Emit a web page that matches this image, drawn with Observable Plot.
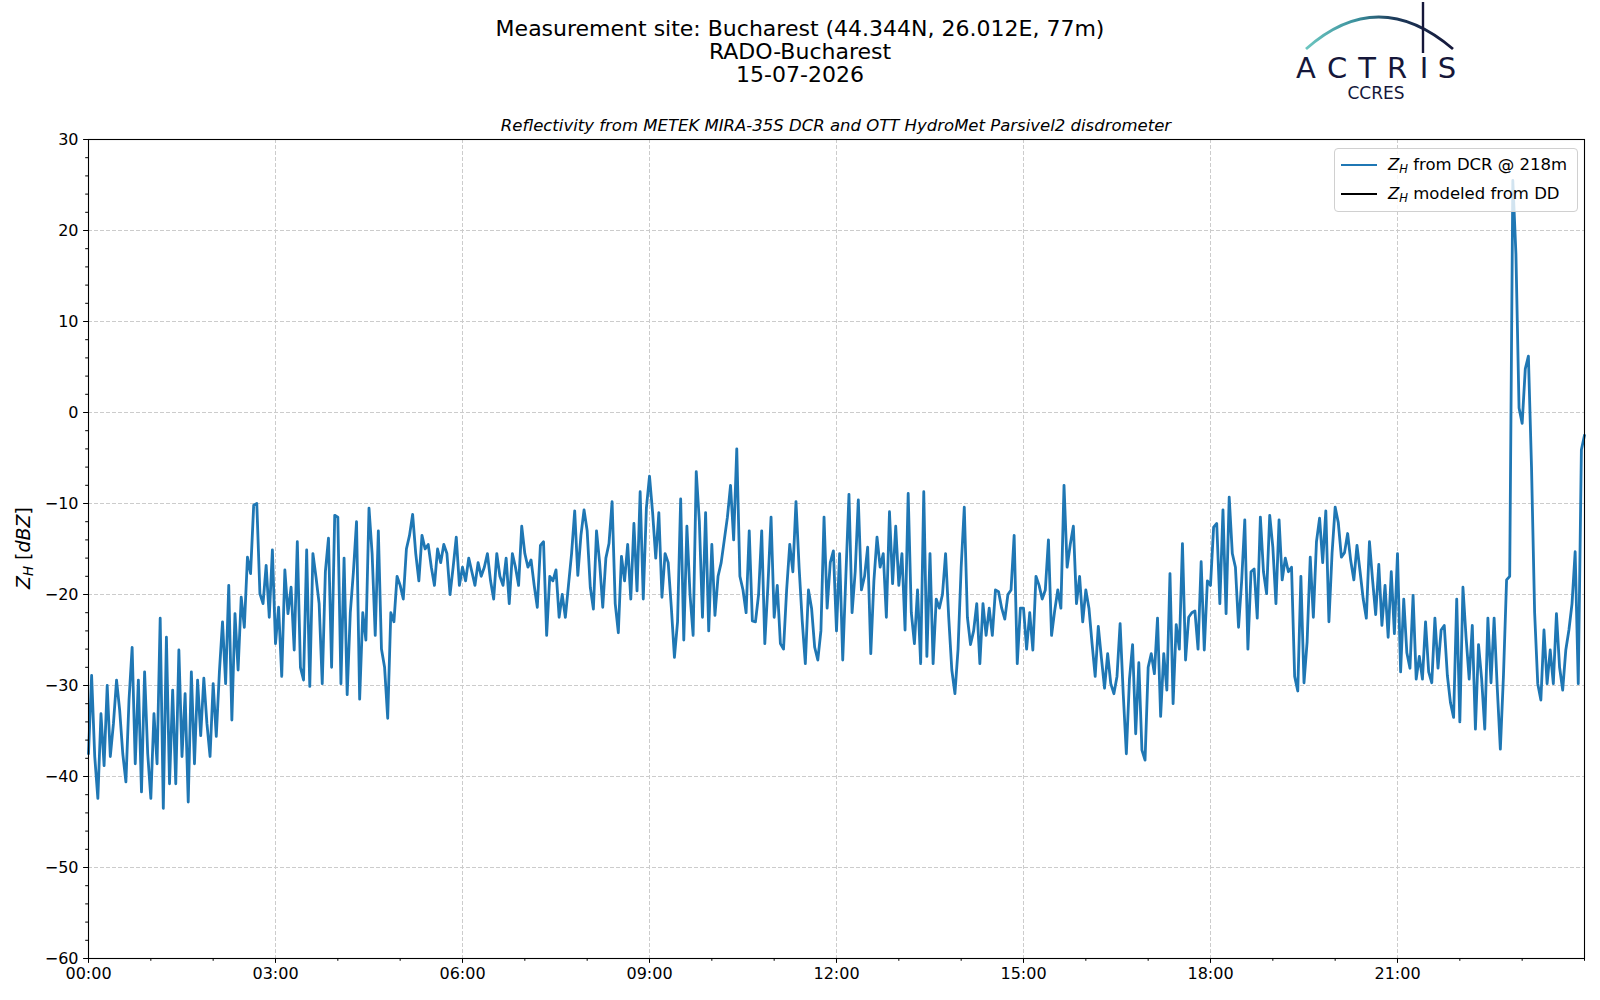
<!DOCTYPE html>
<html><head><meta charset="utf-8">
<script src="https://cdn.jsdelivr.net/npm/d3@7"></script>
<script src="https://cdn.jsdelivr.net/npm/@observablehq/plot@0.6"></script>
<style>
body{margin:0;background:#fff;}
#fig{position:relative;width:1600px;height:1000px;background:#fff;font-family:"DejaVu Sans",sans-serif;color:#000;overflow:hidden}
.t{position:absolute;left:0;width:1600px;text-align:center;font-size:22px;line-height:23px;white-space:nowrap}
#sub{position:absolute;left:636px;width:400px;top:116px;text-align:center;font-size:16.5px;line-height:20px;font-style:italic;white-space:nowrap;display:flex;justify-content:center}
#chart{position:absolute;left:0;top:110px;width:1600px;height:890px}
#ylab{position:absolute;left:22.5px;top:548px;width:200px;text-align:center;font-size:19px;line-height:22px;white-space:nowrap;transform:translate(-50%,-50%) rotate(-90deg)}
#legend{position:absolute;left:1334px;top:148px;width:244px;height:64px;border:1px solid #d0d0d0;border-radius:4px;background:rgba(255,255,255,0.8);box-sizing:border-box;font-size:16.5px}
.row{position:absolute;left:0;height:22px;line-height:22px;white-space:nowrap}
.sw{position:absolute;left:6px;top:10px;width:36px;height:2.4px}
.lt{position:absolute;left:53px;top:0}
sub{font-size:70%;vertical-align:-0.25em;line-height:0}
#logo{position:absolute;left:1290px;top:0}
</style></head><body>
<div id="fig">
  <div class="t" style="top:17px">Measurement site: Bucharest (44.344N, 26.012E, 77m)</div>
  <div class="t" style="top:40px">RADO-Bucharest</div>
  <div class="t" style="top:63px">15-07-2026</div>
  <div id="sub"><span>Reflectivity from METEK MIRA-35S DCR and OTT HydroMet Parsivel2 disdrometer</span></div>
  <svg id="logo" width="175" height="105" viewBox="1290 0 175 105">
    <defs>
      <linearGradient id="arcg" x1="1306" y1="0" x2="1453" y2="0" gradientUnits="userSpaceOnUse">
        <stop offset="0" stop-color="#6cc6c0"/>
        <stop offset="0.35" stop-color="#3a8f9c"/>
        <stop offset="0.6" stop-color="#1d3a5a"/>
        <stop offset="1" stop-color="#15173a"/>
      </linearGradient>
    </defs>
    <path d="M1306,49 Q1378,-15 1453,49" fill="none" stroke="url(#arcg)" stroke-width="2.8"/>
    <path d="M1423,2 L1423,53" stroke="#15173a" stroke-width="2.4"/>
    <g fill="#15173a" font-family="DejaVu Sans" font-weight="400" font-size="29" text-anchor="middle">
      <text x="1306" y="78">A</text><text x="1337" y="78">C</text><text x="1367" y="78">T</text>
      <text x="1397" y="78">R</text><text x="1424" y="78">I</text><text x="1447" y="78">S</text>
    </g>
    <text x="1376" y="99" fill="#15173a" font-family="DejaVu Sans" font-size="17" text-anchor="middle">CCRES</text>
  </svg>
  <div id="chart"></div>
  <div id="ylab"><i>Z</i><sub><i>H</i></sub> [<i>dBZ</i>]</div>
  <div id="legend">
    <div class="row" style="top:5px"><div class="sw" style="background:#1f77b4"></div><span class="lt"><i>Z</i><sub><i>H</i></sub> from DCR @ 218m</span></div>
    <div class="row" style="top:34px"><div class="sw" style="background:#000"></div><span class="lt"><i>Z</i><sub><i>H</i></sub> modeled from DD</span></div>
  </div>
</div>
<script>
// Z_H from DCR @ 218m, one value every 3 minutes (dBZ)
const zh_00_03 = [-37.5,-28.9,-37.8,-42.4,-33.1,-38.8,-30,-37.8,-34.2,-29.4,-32.7,-37.5,-40.6,-31.6,-25.8,-38.6,-29.4,-41.7,-28.5,-37.5,
  -42.4,-33.1,-38.6,-22.6,-43.5,-24.7,-40.8,-30.5,-40.8,-26.1,-37.8,-30.9,-42.8,-28.5,-38.6,-29.4,-35.5,-29.2,-34.2,-37.8,
  -29.8,-35.6,-28.5,-23,-29.8,-19,-33.8,-22.1,-28.3,-20.3,-23.6,-15.9,-17.7,-10.2,-10,-19.9,-21,-16.8,-22.5,-15.1];
const zh_03_06 = [-25.4,-21.4,-29,-17.3,-22.1,-19.2,-26.1,-14.2,-28,-29.4,-15.1,-30.1,-15.5,-18.1,-21,-29.8,-17.5,-13.8,-28,-11.3,
  -11.5,-29.8,-16,-31,-22,-17.5,-12,-31.5,-22,-25,-10.5,-15.5,-24.5,-13,-26,-28,-33.6,-22,-23,-18,
  -19,-20.5,-15,-13.5,-11.2,-15.5,-18.5,-13.5,-15,-14.5,-17,-19,-15,-16.5,-14.5,-15.5,-20,-17,-13.7,-19];
const zh_06_09 = [-17,-18.5,-16,-17.5,-19,-16.5,-18,-17,-15.5,-18.5,-20.5,-15.5,-18,-19,-16,-21,-15.5,-17,-19,-12.5,
  -15.5,-17,-16.2,-19,-21.4,-14.6,-14.2,-24.5,-18,-18.5,-17.3,-22.5,-20,-22.5,-19,-15.5,-10.8,-17.9,-13.5,-10.7,
  -13,-19.2,-21.6,-13,-16.5,-21.4,-16,-14.4,-9.8,-21,-24.2,-15.8,-18.5,-14.5,-20.5,-12.2,-19.6,-8.7,-20.5,-10.5];
const zh_09_12 = [-7,-11,-16,-11,-20.3,-15.5,-16.5,-21.4,-26.9,-23,-9.5,-25,-12.5,-20,-24.5,-6.5,-12,-22.5,-11,-24,
  -14.5,-22.3,-18,-16.5,-14,-11.5,-8,-14,-4,-18,-19.5,-22,-13,-22.9,-23,-20,-13,-25.4,-19,-11.5,
  -22.5,-19,-25.4,-26,-19.5,-14.5,-17.5,-9.8,-17,-22.9,-27.6,-19.5,-21.5,-25.8,-27.2,-24,-11.5,-21.5,-16.5,-15.2];
const zh_12_15 = [-24,-15.5,-27.2,-18,-9,-22,-17.5,-9.6,-19.5,-18,-14.8,-26.5,-18.5,-13.7,-17,-15.5,-22.5,-10.9,-18.8,-12.5,
  -19,-15.5,-23.9,-8.9,-22,-25.4,-19.5,-27.6,-8.7,-26.8,-15.5,-27.6,-20.5,-21.5,-20,-15.5,-22.5,-28.3,-30.9,-26,
  -17,-10.4,-22.5,-25.5,-24,-21,-27.6,-21,-24.5,-21.5,-24.5,-19.5,-19.7,-21.5,-22.7,-20,-19.5,-13.5,-27.6,-21.5];
const zh_15_18 = [-21.5,-26,-22,-26.1,-18,-19,-20.5,-19.5,-14,-24.5,-21.8,-19.5,-21.5,-8,-17,-14.5,-12.5,-21,-18,-23,
  -19.5,-21.5,-25.4,-29,-23.5,-27,-30.3,-26.5,-29.8,-30.9,-29,-23.2,-30.9,-37.5,-29.3,-25.5,-35.3,-27.5,-37.1,-38.2,
  -28,-26.5,-28.7,-22.6,-33.4,-26.5,-30.5,-17.7,-32,-23.3,-26,-14.4,-27.2,-22.5,-22,-21.8,-26,-16.4,-26.1,-18.5];
const zh_18_21 = [-19,-12.6,-12.2,-21,-10.7,-22.1,-9.3,-15.5,-17,-23.6,-18.5,-11.8,-26,-17.5,-17.2,-22.6,-11.5,-17.5,-19.9,-11.3,
  -14.8,-21,-11.8,-18.4,-16,-17.5,-17,-29,-30.6,-18,-29.7,-25.2,-15.9,-22.5,-14.2,-11.6,-16.5,-10.8,-23,-15.5,
  -10.4,-12.1,-15.9,-15.4,-13.3,-16.3,-18.4,-14.6,-17.5,-20.5,-22.6,-14.2,-18.4,-22.2,-16.7,-23.4,-19,-24.7,-17.5,-24.3];
const zh_21_24 = [-15.5,-28.5,-20.5,-26.4,-28.1,-20.1,-29.3,-26.8,-29.3,-23,-28.5,-29.7,-22.6,-28.1,-23.9,-23.4,-28.9,-31.9,-33.5,-20.5,
  -34,-19.2,-24.7,-29.3,-23.4,-34.8,-25.5,-29.3,-34.8,-22.6,-29.7,-22.6,-30.2,-37,-28.9,-18.4,-18,25.5,17.4,0.5,
  -1.2,4.8,6.2,-6,-22,-29.8,-31.6,-23.9,-29.8,-26.1,-29.8,-22.1,-28,-30.5,-26.1,-23.9,-21,-15.3,-29.8,-4.1,
  -2.5];
const stepHours = 3 / 60;

const yTicks = [30, 20, 10, 0, -10, -20, -30, -40, -50, -60];
const yTickLabels = ["30", "20", "10", "0", "\u221210", "\u221220", "\u221230", "\u221240", "\u221250", "\u221260"];
const yMinorTicks = d3.range(-60, 31, 2);
const xTickHours = [0, 3, 6, 9, 12, 15, 18, 21];
const xTickLabels = ["00:00", "03:00", "06:00", "09:00", "12:00", "15:00", "18:00", "21:00"];
const xMinorHours = d3.range(0, 25, 1);

const values = [].concat(zh_00_03, zh_03_06, zh_06_09, zh_09_12, zh_12_15, zh_15_18, zh_18_21, zh_21_24);
const series = values.map((v, i) => ({t: i * stepHours, v}));
const yLabelRows = yTicks.map((v, i) => ({v, label: yTickLabels[i]}));
const xLabelRows = xTickHours.map((h, i) => ({h, label: xTickLabels[i]}));

const grid = {stroke: "#cccccc", strokeWidth: 1, strokeDasharray: "4,2"};
const chart = Plot.plot({
  width: 1600, height: 890,
  marginTop: 29, marginRight: 16, marginBottom: 42, marginLeft: 88,
  style: {fontFamily: '"DejaVu Sans", sans-serif', color: "#000", background: "transparent", overflow: "visible"},
  x: {domain: [0, 24], axis: null},
  y: {domain: [-60, 30], axis: null},
  marks: [
    Plot.ruleY(yTicks.filter(d => d > -60 && d < 30), grid),
    Plot.ruleX(xTickHours.filter(d => d > 0), grid),
    Plot.line(series, {x: "t", y: "v", stroke: "#1f77b4", strokeWidth: 2.8, strokeLinejoin: "round"}),
    Plot.frame({stroke: "#000", strokeWidth: 1.1}),
    Plot.axisY(yMinorTicks, {anchor: "left", tickSize: 2.8, tickFormat: () => "", label: null}),
    Plot.axisY(yTicks, {anchor: "left", tickSize: 4.9, tickFormat: () => "", label: null}),
    Plot.axisX(xMinorHours, {anchor: "bottom", tickSize: 2.8, tickFormat: () => "", label: null}),
    Plot.axisX(xTickHours, {anchor: "bottom", tickSize: 4.9, tickFormat: () => "", label: null}),
    Plot.text(yLabelRows, {y: "v", text: "label", frameAnchor: "left", textAnchor: "end", dx: -10, fontSize: 16, fill: "#000", fontFamily: "DejaVu Sans"}),
    Plot.text(xLabelRows, {x: "h", text: "label", frameAnchor: "bottom", lineAnchor: "top", dy: 9, fontSize: 16, fill: "#000", fontFamily: "DejaVu Sans"})
  ]
});
document.getElementById("chart").appendChild(chart);
</script>
</body></html>
